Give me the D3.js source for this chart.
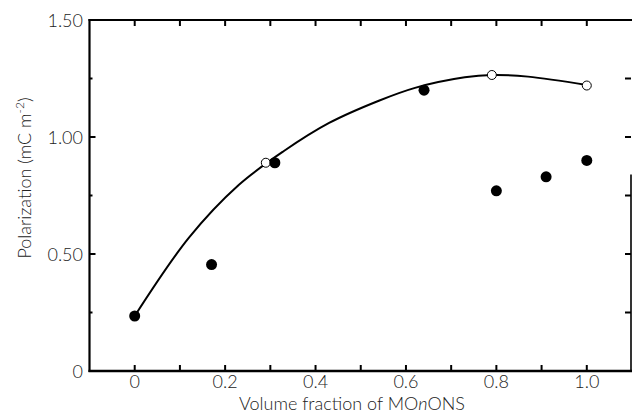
<!DOCTYPE html>
<html>
<head>
<meta charset="utf-8">
<script src="https://cdn.jsdelivr.net/npm/d3@7"></script>
<style>
  body { margin: 0; background: #fff; }
  text { font-family: Lato, "Noto Sans", sans-serif; font-weight: 300; fill: #222; }
</style>
</head>
<body>
<div id="container"></div>
<script>
// measured values (filled = solid dots, open = open circles)
var filledX = [0, 0.17, 0.31, 0.64, 0.80, 0.91, 1.0];
var filledY = [0.235, 0.455, 0.89, 1.20, 0.77, 0.83, 0.90];
var openX = [0.29, 0.79, 1.0];
var openY = [0.89, 1.265, 1.22];
// hand-drawn fit curve
var curveX = [0, 0.12, 0.23, 0.33, 0.43, 0.54, 0.62, 0.73, 0.79, 0.87, 1.0];
var curveY = [0.235, 0.57, 0.795, 0.94, 1.06, 1.155, 1.21, 1.255, 1.265, 1.258, 1.222];
var xTicks = [0, 0.2, 0.4, 0.6, 0.8, 1.0];
var xTickLabels = ["0", "0.2", "0.4", "0.6", "0.8", "1.0"];
var yTicks = [0, 0.5, 1.0, 1.5];
var yTickLabels = ["0", "0.50", "1.00", "1.50"];

var width = 633, height = 418;
var x = d3.scaleLinear().domain([-0.1, 1.1]).range([89.5, 632]);
var y = d3.scaleLinear().domain([0, 1.5]).range([371, 20]);

const svg = d3
  .select("#container")
  .append("svg")
  .attr("width", width)
  .attr("height", height);

// frame
var frame = svg.append("g").style("stroke", "#000").style("fill", "none");
frame.append("line")
  .attr("x1", x(-0.1)).attr("x2", x(-0.1))
  .attr("y1", y(1.5) - 1).attr("y2", y(0) + 1)
  .style("stroke-width", 2.2);
frame.append("line")
  .attr("x1", x(-0.1) - 1).attr("x2", x(1.1))
  .attr("y1", y(0)).attr("y2", y(0))
  .style("stroke-width", 2.4);
frame.append("line")
  .attr("x1", x(-0.1) - 1).attr("x2", x(1.1))
  .attr("y1", y(1.5)).attr("y2", y(1.5))
  .style("stroke-width", 2);
frame.append("line")
  .attr("x1", x(1.1) - 1).attr("x2", x(1.1) - 1)
  .attr("y1", y(0.84)).attr("y2", y(0) + 1)
  .style("stroke-width", 1.6);

// x ticks every 0.1, inward on top and bottom
var xMinor = d3.range(0, 1.05, 0.1);
frame.selectAll(".xtb")
  .data(xMinor)
  .enter()
  .append("line")
  .attr("x1", d => x(d)).attr("x2", d => x(d))
  .attr("y1", y(0)).attr("y2", y(0) - 6)
  .style("stroke-width", 2);
frame.selectAll(".xtt")
  .data(xMinor)
  .enter()
  .append("line")
  .attr("x1", d => x(d)).attr("x2", d => x(d))
  .attr("y1", y(1.5)).attr("y2", y(1.5) + 6)
  .style("stroke-width", 2);

// y ticks, major + minor on left, every 0.25 on right
var yAll = d3.range(0.25, 1.5, 0.25);
frame.selectAll(".ytl")
  .data(yAll)
  .enter()
  .append("line")
  .attr("x1", x(-0.1)).attr("x2", d => x(-0.1) + (d % 0.5 === 0 ? 6 : 3))
  .attr("y1", d => y(d)).attr("y2", d => y(d))
  .style("stroke-width", 2);
frame.selectAll(".ytr")
  .data(yAll)
  .enter()
  .append("line")
  .attr("x1", x(1.1) - 1).attr("x2", x(1.1) - 7)
  .attr("y1", d => y(d)).attr("y2", d => y(d))
  .style("stroke-width", 2);

// tick labels
svg.append("g")
  .selectAll("text")
  .data(xTicks)
  .enter()
  .append("text")
  .attr("x", d => x(d))
  .attr("y", 388)
  .attr("text-anchor", "middle")
  .style("font-size", "18px")
  .text((d, i) => xTickLabels[i]);

svg.append("g")
  .selectAll("text")
  .data(yTicks)
  .enter()
  .append("text")
  .attr("x", 83)
  .attr("y", d => y(d) + 6.5)
  .attr("text-anchor", "end")
  .style("font-size", "18px")
  .text((d, i) => yTickLabels[i]);

// axis titles
var xt = svg.append("text")
  .attr("x", 352)
  .attr("y", 410)
  .attr("text-anchor", "middle")
  .style("font-size", "18px");
xt.append("tspan").text("Volume fraction of MO");
xt.append("tspan").style("font-style", "italic").text("n");
xt.append("tspan").text("ONS");

var yt = svg.append("text")
  .attr("transform", "translate(31 178) rotate(-90)")
  .attr("text-anchor", "middle")
  .style("font-size", "18px");
yt.append("tspan").text("Polarization (mC m");
yt.append("tspan").attr("dy", -7).style("font-size", "12px").text("-2");
yt.append("tspan").attr("dy", 7).text(")");

// fit curve
var curveData = curveX.map((d, i) => [d, curveY[i]]);
svg.append("path")
  .datum(curveData)
  .attr("d", d3.line()
    .x(d => x(d[0]))
    .y(d => y(d[1]))
    .curve(d3.curveCatmullRom))
  .style("fill", "none")
  .style("stroke", "#000")
  .style("stroke-width", 2);

// open circles
svg.append("g")
  .selectAll("circle")
  .data(openX)
  .enter()
  .append("circle")
  .attr("cx", d => x(d))
  .attr("cy", (d, i) => y(openY[i]))
  .attr("r", 4.5)
  .style("fill", "#fff")
  .style("stroke", "#000")
  .style("stroke-width", 1);

// filled dots
svg.append("g")
  .selectAll("circle")
  .data(filledX)
  .enter()
  .append("circle")
  .attr("cx", d => x(d))
  .attr("cy", (d, i) => y(filledY[i]))
  .attr("r", 5.5)
  .style("fill", "#000");
</script>
</body>
</html>
